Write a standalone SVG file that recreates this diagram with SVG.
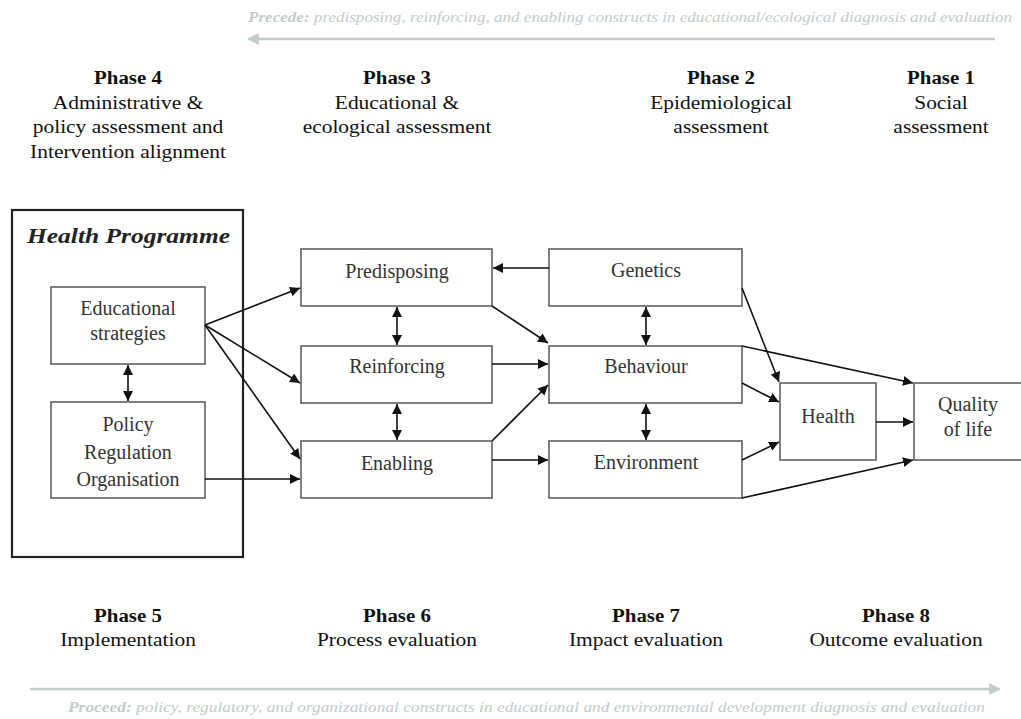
<svg xmlns="http://www.w3.org/2000/svg" width="1021" height="719" viewBox="0 0 1021 719">
<defs>
<marker id="ah" viewBox="0 0 10 10" refX="10" refY="5" markerWidth="10" markerHeight="10" markerUnits="userSpaceOnUse" orient="auto-start-reverse"><path d="M0,0 L10,5 L0,10 z" fill="#111"/></marker>
<marker id="gh" viewBox="0 0 10 10" refX="9" refY="5" markerWidth="12" markerHeight="12" markerUnits="userSpaceOnUse" orient="auto-start-reverse"><path d="M0,0 L10,5 L0,10 z" fill="#c3cccc"/></marker>
<style>
text{font-family:"Liberation Serif","Times New Roman",serif;fill:#222}
.lbl{font-size:20px;text-anchor:middle;fill:#333}
.ph{font-size:19.5px;text-anchor:middle;fill:#111}
.phb{font-weight:bold;font-size:19px}
.box{fill:#fff;stroke:#555;stroke-width:1.5}
.con{stroke:#111;stroke-width:1.6;fill:none;marker-end:url(#ah)}
.dbl{stroke:#111;stroke-width:1.6;fill:none;marker-end:url(#ah);marker-start:url(#ah)}
.grey{font-size:14.5px;font-style:italic;fill:#c3cbcb}
.garr{stroke:#c3cccc;stroke-width:2.5;fill:none}
</style>
</defs>
<rect width="1021" height="719" fill="#fff"/>

<g id="precede">
<text class="grey" x="248" y="22" textLength="764" lengthAdjust="spacingAndGlyphs"><tspan font-weight="bold">Precede:</tspan> predisposing, reinforcing, and enabling constructs in educational/ecological diagnosis and evaluation</text>
<line class="garr" x1="995" y1="39" x2="248" y2="39" marker-end="url(#gh)"/>
</g>
<g id="proceed">
<line class="garr" x1="30" y1="689" x2="1000" y2="689" marker-end="url(#gh)"/>
<text class="grey" x="68" y="712" textLength="917" lengthAdjust="spacingAndGlyphs"><tspan font-weight="bold">Proceed:</tspan> policy, regulatory, and organizational constructs in educational and environmental development diagnosis and evaluation</text>
</g>

<g id="phase4" transform="translate(128 0) scale(1.1 1)"><text class="ph phb" x="0" y="84">Phase 4</text><text class="ph" x="0" y="109">Administrative &amp;</text><text class="ph" x="0" y="133">policy assessment and</text><text class="ph" x="0" y="158">Intervention alignment</text></g>
<g id="phase3" transform="translate(397 0) scale(1.1 1)"><text class="ph phb" x="0" y="84">Phase 3</text><text class="ph" x="0" y="109">Educational &amp;</text><text class="ph" x="0" y="133">ecological assessment</text></g>
<g id="phase2" transform="translate(721 0) scale(1.1 1)"><text class="ph phb" x="0" y="84">Phase 2</text><text class="ph" x="0" y="109">Epidemiological</text><text class="ph" x="0" y="133">assessment</text></g>
<g id="phase1" transform="translate(941 0) scale(1.1 1)"><text class="ph phb" x="0" y="84">Phase 1</text><text class="ph" x="0" y="109">Social</text><text class="ph" x="0" y="133">assessment</text></g>
<g id="phase5" transform="translate(128 0) scale(1.1 1)"><text class="ph phb" x="0" y="622">Phase 5</text><text class="ph" x="0" y="646">Implementation</text></g>
<g id="phase6" transform="translate(397 0) scale(1.1 1)"><text class="ph phb" x="0" y="622">Phase 6</text><text class="ph" x="0" y="646">Process evaluation</text></g>
<g id="phase7" transform="translate(646 0) scale(1.1 1)"><text class="ph phb" x="0" y="622">Phase 7</text><text class="ph" x="0" y="646">Impact evaluation</text></g>
<g id="phase8" transform="translate(896 0) scale(1.1 1)"><text class="ph phb" x="0" y="622">Phase 8</text><text class="ph" x="0" y="646">Outcome evaluation</text></g>

<g id="health-programme">
<rect x="12" y="210" width="231" height="347" fill="none" stroke="#222" stroke-width="2.2"/>
<text x="27" y="243" font-size="20" font-weight="bold" font-style="italic" fill="#111" textLength="203" lengthAdjust="spacingAndGlyphs">Health Programme</text>
</g>
<g id="educational"><rect class="box" x="51" y="287" width="154" height="77"/><text class="lbl" x="128" y="315">Educational</text><text class="lbl" x="128" y="340">strategies</text></g>
<g id="policy"><rect class="box" x="51" y="402" width="154" height="96"/><text class="lbl" x="128" y="431">Policy</text><text class="lbl" x="128" y="459">Regulation</text><text class="lbl" x="128" y="486">Organisation</text></g>
<g id="predisposing"><rect class="box" x="301" y="249" width="191" height="57"/><text class="lbl" x="397" y="278">Predisposing</text></g>
<g id="reinforcing"><rect class="box" x="301" y="346" width="191" height="57"/><text class="lbl" x="397" y="373">Reinforcing</text></g>
<g id="enabling"><rect class="box" x="301" y="441" width="191" height="57"/><text class="lbl" x="397" y="470">Enabling</text></g>
<g id="genetics"><rect class="box" x="549" y="249" width="193" height="57"/><text class="lbl" x="646" y="277">Genetics</text></g>
<g id="behaviour"><rect class="box" x="549" y="346" width="193" height="57"/><text class="lbl" x="646" y="373">Behaviour</text></g>
<g id="environment"><rect class="box" x="549" y="441" width="193" height="57"/><text class="lbl" x="646" y="469">Environment</text></g>
<g id="health"><rect class="box" x="780" y="383" width="96" height="77"/><text class="lbl" x="828" y="423">Health</text></g>
<g id="quality"><rect class="box" x="914" y="383" width="120" height="77" stroke="#222"/><text class="lbl" x="968" y="411">Quality</text><text class="lbl" x="968" y="436">of life</text></g>

<g id="connectors">
<line class="dbl" x1="128" y1="365" x2="128" y2="401"/>
<line class="con" x1="205" y1="325" x2="300" y2="288"/>
<line class="con" x1="205" y1="325" x2="300" y2="383"/>
<line class="con" x1="205" y1="325" x2="300" y2="459"/>
<line class="con" x1="205" y1="479" x2="300" y2="479"/>
<line class="dbl" x1="397" y1="307" x2="397" y2="345"/>
<line class="dbl" x1="397" y1="404" x2="397" y2="440"/>
<line class="con" x1="549" y1="268" x2="493" y2="268"/>
<line class="con" x1="492" y1="306" x2="548" y2="343"/>
<line class="con" x1="492" y1="364" x2="548" y2="364"/>
<line class="con" x1="492" y1="441" x2="548" y2="385"/>
<line class="con" x1="492" y1="460" x2="548" y2="460"/>
<line class="dbl" x1="646" y1="307" x2="646" y2="345"/>
<line class="dbl" x1="646" y1="404" x2="646" y2="440"/>
<line class="con" x1="742" y1="288" x2="779" y2="382"/>
<line class="con" x1="742" y1="346" x2="913" y2="383"/>
<line class="con" x1="742" y1="383" x2="779" y2="402"/>
<line class="con" x1="742" y1="460" x2="779" y2="442"/>
<line class="con" x1="742" y1="498" x2="913" y2="460"/>
<line class="con" x1="876" y1="422" x2="913" y2="422"/>
</g>
</svg>
